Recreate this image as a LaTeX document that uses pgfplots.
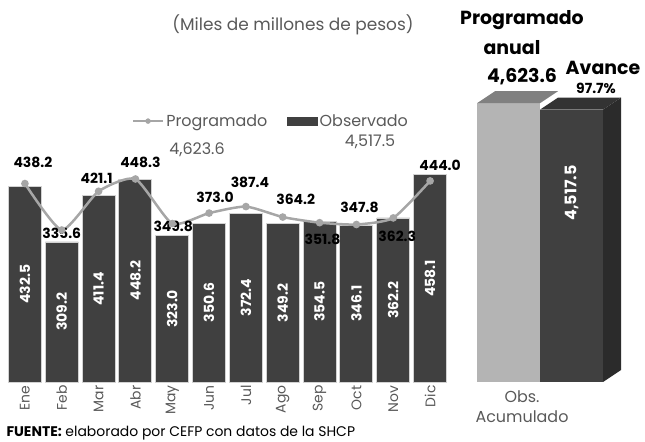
\documentclass[border=0pt]{standalone}
\usepackage{fontspec}
\setmainfont{Poppins}
\usepackage{pgfplots}
\usepackage{pgfplotstable}
\pgfplotsset{compat=1.18}
\definecolor{obscol}{HTML}{404040}
\definecolor{progcol}{HTML}{A6A6A6}
\definecolor{lightfront}{HTML}{B4B4B4}
\definecolor{lighttop}{HTML}{808080}
\definecolor{darktop}{HTML}{333333}
\definecolor{darkside}{HTML}{2B2B2B}
\definecolor{txtgray}{HTML}{595959}

\pgfplotstableread{
m obs prog
0 432.5 438.2
1 309.2 335.6
2 411.4 421.1
3 448.2 448.3
4 323.0 349.8
5 350.6 373.0
6 372.4 387.4
7 349.2 364.2
8 354.5 351.8
9 346.1 347.8
10 362.2 362.3
11 458.1 444.0
}\datos

\newcommand{\lbl}{\bfseries\fontsize{14}{14}\selectfont}

\begin{document}
\begin{tikzpicture}[x=1bp,y=1bp]
\useasboundingbox (0,0) rectangle (645,442);

% meses
\begin{axis}[
    at={(6.5bp,60bp)}, anchor=south west, scale only axis,
    width=442bp, height=317bp,
    xmin=-0.5, xmax=11.5, ymin=0, ymax=700,
    clip=false,
    axis line style={draw=none}, tick style={draw=none},
    ytick=\empty,
    xtick={0,...,11},
    xticklabels={Ene,Feb,Mar,Abr,May,Jun,Jul,Ago,Sep,Oct,Nov,Dic},
    xticklabel style={rotate=90, anchor=east, text=txtgray, font=\fontsize{14}{14}\selectfont},
    legend style={at={(0.598,0.823)}, anchor=center, draw=none, fill=none,
        font=\fontsize{16}{16}\selectfont, text=txtgray,
        /tikz/every even column/.append style={column sep=18bp}},
    legend columns=2,
]
\addlegendimage{legend image code/.code={\draw[progcol, line width=2.5bp] (0bp,0bp) -- (30bp,0bp); \fill[progcol] (15bp,0bp) circle (2.5bp);}}
\addlegendentry{Programado}
\addlegendimage{legend image code/.code={\fill[obscol] (0bp,-4bp) rectangle (30bp,4bp);}}
\addlegendentry{Observado}

\addplot[ybar, bar width=33bp, fill=obscol, draw=gray!35, line width=0.9bp, forget plot]
    table[x=m, y=obs]{\datos};

\addplot[draw=none, forget plot, nodes near coords,
    nodes near coords={\pgfmathprintnumber[fixed,fixed zerofill,precision=1,assume math mode=true]{\pgfplotspointmeta}},
    point meta=explicit,
    every node near coord/.append style={anchor=center, rotate=90, text=white,
        font=\bfseries\fontsize{14}{14}\selectfont}]
    table[x=m, y expr=\thisrow{obs}/2, meta=obs]{\datos};

\addplot[smooth, tension=0.35, color=progcol, line width=2.5bp, mark=*, mark size=2.5bp,
    mark options={fill=progcol, draw=progcol}, forget plot]
    table[x=m, y=prog]{\datos};

\node[font=\lbl, xshift=8bp,  yshift=21bp] at (axis cs:0,438.2) {438.2};
\node[font=\lbl, xshift=0bp,  yshift=-3bp] at (axis cs:1,335.6) {335.6};
\node[font=\lbl, xshift=-2bp, yshift=13bp] at (axis cs:2,421.1) {421.1};
\node[font=\lbl, xshift=5bp,  yshift=17bp] at (axis cs:3,448.3) {448.3};
\node[font=\lbl, xshift=1bp,  yshift=-3bp] at (axis cs:4,349.8) {349.8};
\node[font=\lbl, xshift=6bp,  yshift=16bp] at (axis cs:5,373.0) {373.0};
\node[font=\lbl, xshift=4bp,  yshift=24bp] at (axis cs:6,387.4) {387.4};
\node[font=\lbl, xshift=13bp, yshift=18bp] at (axis cs:7,364.2) {364.2};
\node[font=\lbl, xshift=3bp,  yshift=-17bp] at (axis cs:8,351.8) {351.8};
\node[font=\lbl, xshift=3bp,  yshift=17bp] at (axis cs:9,347.8) {347.8};
\node[font=\lbl, xshift=4bp,  yshift=-18bp] at (axis cs:10,362.3) {362.3};
\node[font=\lbl, xshift=10bp, yshift=16bp] at (axis cs:11,444.0) {444.0};
\end{axis}

% acumulado
\begin{axis}[
    at={(470bp,60bp)}, anchor=south west, scale only axis,
    width=160bp, height=301.5bp,
    xmin=0, xmax=160, ymin=0, ymax=5000,
    hide axis, clip=false,
]
\addplot[ybar, bar width=63bp, bar shift=0pt, fill=lightfront, draw=none]
    coordinates {(38.5,4623.6)};
\addplot[fill=lighttop, draw=none] coordinates {(7,4623.6) (70,4623.6) (88,4822.6) (25,4822.6)} -- cycle;
\addplot[fill=darkside, draw=none] coordinates {(133,0) (151,199) (151,4716.5) (133,4517.5)} -- cycle;
\addplot[fill=darktop, draw=none] coordinates {(70,4517.5) (133,4517.5) (151,4716.5) (88,4716.5)} -- cycle;
\addplot[ybar, bar width=63bp, bar shift=0pt, fill=obscol, draw=none]
    coordinates {(101.5,4517.5)};
\node[rotate=90, text=white, font=\bfseries\fontsize{16}{16}\selectfont] at (axis cs:101.5,3134) {4,517.5};
\end{axis}

\node[text=txtgray, font=\fontsize{17}{17}\selectfont] at (293,417) {(Miles de millones de pesos)};
\node[text=txtgray, font=\fontsize{16}{16}\selectfont] at (197,292) {4,623.6};
\node[text=txtgray, font=\fontsize{16}{16}\selectfont] at (370,300) {4,517.5};

\node[font=\bfseries\fontsize{19}{19}\selectfont] at (522,422) {Programado};
\node[font=\bfseries\fontsize{19}{19}\selectfont] at (512,394) {anual};
\node[font=\bfseries\fontsize{19}{19}\selectfont] at (522,365) {4,623.6};
\node[font=\bfseries\fontsize{19}{19}\selectfont] at (603,374) {Avance};
\node[font=\bfseries\fontsize{14}{14}\selectfont] at (596,354) {97.7\%};
\node[text=txtgray, font=\fontsize{16}{16}\selectfont] at (522,45) {Obs.};
\node[text=txtgray, font=\fontsize{16}{16}\selectfont] at (522,25) {Acumulado};

\node[anchor=west, font=\fontsize{14}{14}\selectfont] at (3,9) {\textbf{FUENTE:} elaborado por CEFP con datos de la SHCP};
\end{tikzpicture}
\end{document}
